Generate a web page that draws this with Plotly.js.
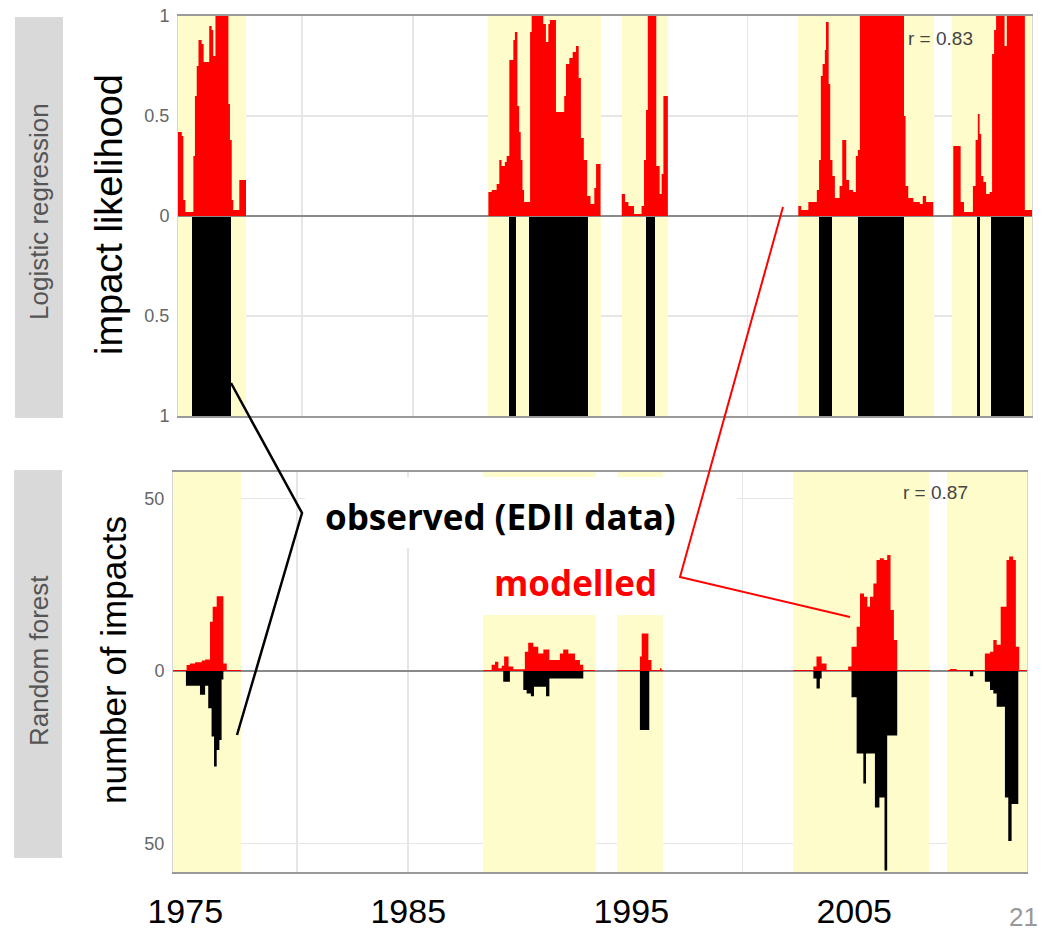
<!DOCTYPE html>
<html>
<head>
<meta charset="utf-8">
<script src="https://cdn.plot.ly/plotly-3.0.1.min.js"></script>
<style>html,body{margin:0;padding:0;background:#fff}#chart{width:1044px;height:931px}</style>
</head>
<body>
<div id="chart"></div>
<script>
// ---------------- data ----------------
// drought periods (shaded yellow)
const periodStart = [1974.45, 1988.35, 1994.35, 2002.25, 2009.17];
const periodEnd   = [1977.52, 1993.42, 1996.42, 2008.35, 2012.75];

// x tick labels
const xTickVals = [1975, 1980, 1985, 1990, 1995, 2000, 2005, 2010];
const xTickText = ['1975', '', '1985', '', '1995', '', '2005', ''];

// Logistic regression: modelled impact likelihood (step series)
const lrYear = [
 1974.45,1974.62,1974.69,1974.78,1975.14,1975.21,1975.29,1975.37,1975.51,1975.60,1975.85,1975.96,1976.03,1976.13,1976.71,1976.78,1976.86,1976.93,1977.20,1977.50,
 1988.37,1988.52,1988.74,1988.86,1988.96,1989.11,1989.19,1989.31,1989.49,1989.56,1989.67,1989.75,1989.82,1989.90,1989.97,1990.24,1990.31,1990.83,1990.95,1991.06,1991.13,1991.40,1991.77,1991.85,1992.00,1992.15,1992.30,1992.42,1992.52,1992.65,1992.80,1992.95,1993.12,1993.20,1993.40,
 1994.35,1994.50,1994.65,1994.90,1995.24,1995.35,1995.44,1995.52,1995.90,1996.05,1996.14,1996.22,1996.42,
 2002.27,2002.40,2002.72,2003.10,2003.20,2003.28,2003.36,2003.46,2003.51,2003.63,2003.70,2003.80,2003.91,2004.12,2004.24,2004.42,2004.55,2004.73,2004.85,2004.94,2005.03,2007.01,2007.08,2007.20,2007.43,2007.72,2007.85,2008.00,2008.32,
 2009.22,2009.55,2009.70,2010.10,2010.22,2010.32,2010.40,2010.47,2010.57,2010.69,2010.85,2010.96,2011.05,2011.14,2011.52,2011.62,2012.43,2012.75];
const lrModel = [
 0.42,0.40,0.08,0.02,0.30,0.60,0.75,0.88,0.86,0.77,0.95,0.93,0.80,1.00,0.56,0.38,0.08,0.03,0.18,0,
 0.12,0.13,0.16,0.28,0.25,0.27,0.30,0.78,0.88,0.92,0.55,0.42,0.28,0.13,0.07,0.92,1.00,0.96,0.87,0.96,0.98,0.52,0.60,0.76,0.79,0.82,0.85,0.69,0.39,0.28,0.10,0.06,0.14,0.26,0,
 0.11,0.07,0.05,0.01,0.05,0.28,0.53,1.00,0.25,0.11,0.21,0.60,0,
 0.05,0.03,0.07,0.13,0.28,0.70,0.76,0.83,0.97,0.66,0.28,0.20,0.09,0.15,0.38,0.18,0.13,0.12,0.30,0.33,1.00,0.50,0.15,0.09,0.07,0.06,0.10,0.07,0,
 0.35,0.07,0.02,0.15,0.38,0.51,0.41,0.20,0.17,0.11,0.12,0.81,0.93,1.00,0.85,1.00,0.03,0];

// Logistic regression: observed impact periods (EDII), likelihood 1 drawn downward
const lrObsStart = [1975.08, 1989.29, 1990.19, 1995.44, 2003.19, 2004.94, 2010.28, 2010.91];
const lrObsEnd   = [1976.83, 1989.61, 1992.84, 1995.84, 2003.78, 2007.00, 2010.41, 2012.39];
const lrObsValue = [-1, -1, -1, -1, -1, -1, -1, -1];

// Random forest: modelled number of impacts (step series)
const rfYear = [
 1974.45,1975.06,1975.21,1975.44,1975.74,1975.89,1976.11,1976.23,1976.41,1976.71,1976.86,1977.50,
 1988.37,1988.74,1988.89,1989.04,1989.19,1989.30,1989.50,1989.71,1990.23,1990.38,1990.61,1990.83,1991.06,1991.33,1991.80,1991.95,1992.18,1992.48,1992.70,1992.85,1993.37,
 1994.35,1995.39,1995.47,1995.77,1995.91,1996.29,1996.36,1996.44,
 2002.27,2003.17,2003.31,2003.54,2003.76,2004.73,2004.88,2005.11,2005.26,2005.44,2005.59,2005.71,2005.86,2006.00,2006.15,2006.33,2006.48,2006.63,2006.78,2006.93,2008.40,
 2009.20,2009.29,2009.59,2010.86,2011.09,2011.24,2011.39,2011.57,2011.83,2011.95,2012.13,2012.25,2012.40,2012.75];
const rfModel = [
 0.3,1.7,2.2,2.5,3.0,3.3,14.3,18.6,21.7,2.2,0.3,0,
 0.3,1.8,2.7,0.8,1.5,4.2,1.3,0.5,5.6,8.2,7.0,5.1,6.2,3.2,5.1,6.2,5.1,3.2,1.8,0.3,0,
 0.3,4.2,10.9,3.2,0.3,0.8,0.3,0,
 0.3,1.3,4.2,2.2,0.3,1.3,7.0,12.8,22.5,21.5,18.6,21.5,25.4,32.2,32.7,32.2,33.6,17.7,9.0,0.3,0,
 0.3,0.6,0.3,5.1,5.6,9.0,7.6,18.6,32.2,33.2,32.2,7.0,0.3,0];

// Random forest: observed number of impacts (drawn downward)
const rfObsYear = [
 1974.45,1975.03,1975.66,1975.89,1976.03,1976.18,1976.29,1976.41,1976.53,1976.63,1976.71,
 1989.26,1989.56,1990.16,1990.31,1990.50,1990.64,1991.18,1991.33,1992.85,
 1995.39,1995.81,
 2003.17,2003.31,2003.46,2003.54,2004.88,2005.11,2005.41,2005.53,2005.93,2006.13,2006.36,2006.48,2006.93,
 2010.19,2010.34,2010.86,2011.09,2011.24,2011.39,2011.76,2011.91,2012.06,2012.36,2012.75];
const rfObs = [
 0,-4.3,-6.9,-4.3,-10.8,-19.0,-27.7,-22.9,-20.0,-2.5,0,
 -3.1,0,-5.5,-6.5,-7.3,-4.6,-7.3,-2.2,0,
 -17.1,0,
 -2.2,-5.1,-2.2,0,-7.6,-23.9,-32.6,-23.9,-39.6,-36.7,-57.9,-18.7,0,
 -1.5,0,-3.1,-5.5,-6.5,-10.4,-36.7,-49.3,-38.6,0,0];

const rValueLR = 'r = 0.83';
const rValueRF = 'r = 0.87';

// ---------------- axes settings ----------------
const xRange = [1974.45, 2012.75];
const lrRange = [-1, 1];
const rfRange = [-58.3, 57.7];

const W = 1044, H = 931;
const px = x => x / W;
const py = y => 1 - y / H;
const RED = '#ff0000', YEL = '#fefccb', GRID = '#e6e6e6', ZERO = '#8a8a8a';
const SANS = 'Liberation Sans, Arial, sans-serif';

const periodMid = periodStart.map((s, i) => (s + periodEnd[i]) / 2);
const periodWidth = periodStart.map((s, i) => periodEnd[i] - s);

const shade = (xa, ya, range) => ({
  type: 'bar', x: periodMid, width: periodWidth,
  y: periodMid.map(() => range[1] - range[0]), base: range[0],
  xaxis: xa, yaxis: ya, marker: { color: YEL, line: { width: 0 } }, hoverinfo: 'skip'
});
const zeroLine = (xa, ya) => ({
  type: 'scatter', mode: 'lines', x: xRange, y: [0, 0], xaxis: xa, yaxis: ya,
  line: { color: ZERO, width: 2 }, hoverinfo: 'skip'
});

const traces = [
  shade('x2', 'y2', lrRange),
  shade('x', 'y', rfRange),
  zeroLine('x2', 'y2'),
  zeroLine('x', 'y'),
  { type: 'scatter', mode: 'lines', x: lrYear, y: lrModel, xaxis: 'x2', yaxis: 'y2',
    line: { shape: 'hv', width: 0, color: RED }, fill: 'tozeroy', fillcolor: RED, hoverinfo: 'skip' },
  { type: 'bar', x: lrObsStart.map((s, i) => (s + lrObsEnd[i]) / 2),
    width: lrObsStart.map((s, i) => lrObsEnd[i] - s), y: lrObsValue,
    xaxis: 'x2', yaxis: 'y2', marker: { color: '#000', line: { width: 0 } }, hoverinfo: 'skip' },
  { type: 'scatter', mode: 'lines', x: rfYear, y: rfModel, xaxis: 'x', yaxis: 'y',
    line: { shape: 'hv', width: 0, color: RED }, fill: 'tozeroy', fillcolor: RED, hoverinfo: 'skip' },
  { type: 'scatter', mode: 'lines', x: rfObsYear, y: rfObs, xaxis: 'x', yaxis: 'y',
    line: { shape: 'hv', width: 0, color: '#000' }, fill: 'tozeroy', fillcolor: '#000', hoverinfo: 'skip' }
];

const shapes = [
  // grey side strips
  { type: 'rect', xref: 'paper', yref: 'paper', x0: px(15), x1: px(63), y0: py(418), y1: py(17),
    fillcolor: '#d9d9d9', line: { width: 0 }, layer: 'above' },
  { type: 'rect', xref: 'paper', yref: 'paper', x0: px(14), x1: px(62), y0: py(858), y1: py(470),
    fillcolor: '#d9d9d9', line: { width: 0 }, layer: 'above' },
  // white text boxes over the lower panel
  { type: 'rect', xref: 'paper', yref: 'paper', x0: px(305), x1: px(737), y0: py(548), y1: py(477),
    fillcolor: '#ffffff', line: { width: 0 }, layer: 'above' },
  { type: 'rect', xref: 'paper', yref: 'paper', x0: px(470), x1: px(737), y0: py(615), y1: py(548),
    fillcolor: '#ffffff', line: { width: 0 }, layer: 'above' },
  // leader lines
  { type: 'path', xref: 'paper', yref: 'paper',
    path: `M ${px(231)} ${py(383)} L ${px(302)} ${py(513)} L ${px(237)} ${py(735)}`,
    line: { color: '#000', width: 2.5 }, layer: 'above' },
  { type: 'path', xref: 'paper', yref: 'paper',
    path: `M ${px(783)} ${py(207)} L ${px(680)} ${py(577)} L ${px(850)} ${py(617)}`,
    line: { color: RED, width: 2 }, layer: 'above' }
];

const ann = (text, x, y, opts) => Object.assign({ text, x: px(x), y: py(y), xref: 'paper', yref: 'paper',
  showarrow: false, xanchor: 'center', yanchor: 'middle' }, opts);

const annotations = [
  ann('Logistic regression', 39, 212, { textangle: -90, font: { family: SANS, size: 26, color: '#555' } }),
  ann('Random forest', 39, 661, { textangle: -90, font: { family: SANS, size: 26, color: '#555' } }),
  ann('impact likelihood', 109, 215, { textangle: -90, font: { family: SANS, size: 38, color: '#000' } }),
  ann('number of impacts', 113, 660, { textangle: -90, font: { family: SANS, size: 35, color: '#000' } }),
  ann(rValueLR, 940, 38, { font: { family: SANS, size: 19, color: '#444' } }),
  ann(rValueRF, 935, 493, { font: { family: SANS, size: 19, color: '#444' } }),
  ann('<b>observed (EDII data)</b>', 500, 516, { font: { family: 'Open Sans, sans-serif', size: 35, color: '#000' } }),
  ann('<b>modelled</b>', 575, 582, { font: { family: 'Open Sans, sans-serif', size: 35, color: RED } }),
  ann('21', 1040, 917, { xanchor: 'right', font: { family: SANS, size: 26, color: '#999' } })
];

const xCommon = {
  range: xRange, tickvals: xTickVals, ticktext: xTickText, ticks: '',
  showgrid: true, gridcolor: GRID, gridwidth: 1.5, zeroline: false,
  showline: true, mirror: true, linecolor: '#9a9a9a', linewidth: 2, fixedrange: true
};
const yCommon = {
  ticks: '', showgrid: true, gridcolor: GRID, gridwidth: 1.5, zeroline: false,
  showline: true, mirror: true, linecolor: '#d6d6d6', linewidth: 1, fixedrange: true,
  tickfont: { family: SANS, size: 18, color: '#666' }, ticklabelstandoff: 4
};

const layout = {
  width: W, height: H, margin: { l: 0, r: 0, t: 0, b: 0 },
  paper_bgcolor: '#fff', plot_bgcolor: '#fff', showlegend: false, barmode: 'overlay', bargap: 0,
  xaxis: Object.assign({}, xCommon, { domain: [px(173), px(1027)], anchor: 'y',
    tickfont: { family: SANS, size: 34, color: '#000' }, ticklabelstandoff: 8 }),
  xaxis2: Object.assign({}, xCommon, { domain: [px(178), px(1032)], anchor: 'y2', showticklabels: false }),
  yaxis: Object.assign({}, yCommon, { domain: [py(872), py(472)], range: rfRange, anchor: 'x',
    tickvals: [-50, 0, 50], ticktext: ['50', '0', '50'] }),
  yaxis2: Object.assign({}, yCommon, { domain: [py(416), py(16)], range: lrRange, anchor: 'x2',
    tickvals: [-1, -0.5, 0, 0.5, 1], ticktext: ['1', '0.5', '0', '0.5', '1'] }),
  shapes, annotations
};

Plotly.newPlot('chart', traces, layout, { displayModeBar: false, staticPlot: true });
</script>
</body>
</html>
